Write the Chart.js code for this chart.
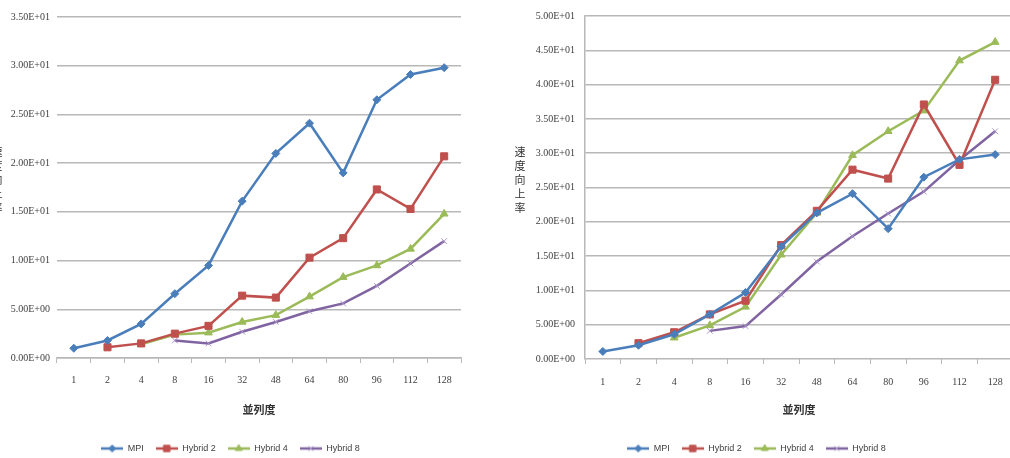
<!DOCTYPE html>
<html>
<head>
<meta charset="utf-8">
<script src="https://cdn.jsdelivr.net/npm/chart.js@4.4.1/dist/chart.umd.min.js"></script>
<style>
body { margin: 0; width: 1010px; height: 458px; overflow: hidden; background: #fff; position: relative; }
.box { position: absolute; top: 0; height: 463px; }
#leftBox { left: 0; width: 500px; }
#rightBox { left: 500px; width: 520px; }
.ytitle { position: absolute; writing-mode: vertical-rl; text-orientation: upright; font-family: 'Noto Sans CJK JP'; font-size: 11px; letter-spacing: 3px; color: #333; }
</style>
</head>
<body>
<div class="box" id="leftBox"><canvas id="leftChart"></canvas></div>
<div class="box" id="rightBox"><canvas id="rightChart"></canvas></div>
<div class="ytitle" style="left:-11px; top:146px;">速度向上率</div>
<div class="ytitle" style="left:512px; top:146px;">速度向上率</div>
<script>
const categories = ['1', '2', '4', '8', '16', '32', '48', '64', '80', '96', '112', '128'];
const seriesNames = ['MPI', 'Hybrid 2', 'Hybrid 4', 'Hybrid 8'];
const xTitle = '並列度';

// left chart
const leftMpi = [1.0, 1.8, 3.5, 6.6, 9.5, 16.1, 21.0, 24.1, 19.0, 26.5, 29.1, 29.8];
const leftHybrid2 = [null, 1.1, 1.5, 2.5, 3.3, 6.4, 6.2, 10.3, 12.3, 17.3, 15.3, 20.7];
const leftHybrid4 = [null, null, 1.4, 2.4, 2.6, 3.7, 4.4, 6.3, 8.3, 9.5, 11.2, 14.8];
const leftHybrid8 = [null, null, null, 1.8, 1.5, 2.7, 3.7, 4.8, 5.6, 7.4, 9.7, 12.0];
const leftYMax = 35;

// right chart
const rightMpi = [1.1, 2.0, 3.6, 6.5, 9.7, 16.4, 21.3, 24.1, 19.0, 26.5, 29.1, 29.8];
const rightHybrid2 = [null, 2.3, 3.9, 6.5, 8.5, 16.6, 21.6, 27.6, 26.3, 37.1, 28.3, 40.7];
const rightHybrid4 = [null, null, 3.1, 4.9, 7.6, 15.2, 21.3, 29.7, 33.2, 36.2, 43.5, 46.2];
const rightHybrid8 = [null, null, null, 4.1, 4.8, 9.4, 14.2, 17.9, 21.2, 24.4, 29.0, 33.2];
const rightYMax = 50;

const colors = ['#4a7ebb', '#c0504d', '#9bbb59', '#8064a2'];
const markerColors = ['#4a7ebb', '#c0504d', '#9bbb59', '#a895c8'];
const markers = ['rectRot', 'rect', 'triangle', 'crossRot'];
const markerSizes = [4, 5, 4.5, 4];

function sci(v) {
    const parts = Number(v).toExponential(2).toUpperCase().split('E');
    const exp = parseInt(parts[1]);
    return parts[0] + 'E' + (exp < 0 ? '-' : '+') + String(Math.abs(exp)).padStart(2, '0');
}

function legendIcon(i) {
    const c = document.createElement('canvas');
    c.width = 22;
    c.height = 10;
    const ctx = c.getContext('2d');
    ctx.strokeStyle = colors[i];
    ctx.lineWidth = 2.5;
    ctx.beginPath();
    ctx.moveTo(0, 5);
    ctx.lineTo(22, 5);
    ctx.stroke();
    ctx.fillStyle = markerColors[i];
    ctx.strokeStyle = markerColors[i];
    ctx.lineWidth = 1;
    Chart.helpers.drawPoint(ctx, { pointStyle: markers[i], radius: markerSizes[i] - 0.5, borderWidth: 1 }, 11, 5);
    return c;
}

function buildChart(id, series, yMax, box) {
    const datasets = series.map((values, i) => ({
        label: seriesNames[i],
        data: values,
        borderColor: colors[i],
        backgroundColor: colors[i],
        borderWidth: 2.5,
        pointStyle: markers[i],
        pointRadius: markerSizes[i],
        pointBackgroundColor: markerColors[i],
        pointBorderColor: markerColors[i],
        pointBorderWidth: 1,
        tension: 0
    }));
    const icons = series.map((v, i) => legendIcon(i));
    const gridColor = '#b8b8b8';

    return new Chart(document.getElementById(id), {
        type: 'line',
        data: { labels: categories, datasets: datasets },
        options: {
            responsive: true,
            maintainAspectRatio: false,
            animation: false,
            layout: { padding: { left: 0, right: box.right, top: box.top, bottom: 0 } },
            scales: {
                x: {
                    offset: true,
                    grid: { offset: true, drawOnChartArea: false, drawTicks: true, tickLength: 5, color: gridColor },
                    border: { display: box.xBorder, color: gridColor, width: 1.5 },
                    ticks: { padding: box.tickPad, color: '#404040', font: { family: 'Liberation Serif', size: 10 } },
                    title: { display: true, text: xTitle, color: '#333', padding: { top: 4, bottom: 16 }, font: { family: 'Noto Sans CJK JP', size: 11, weight: 'bold' } },
                    afterFit: scale => { scale.height = box.xHeight; }
                },
                y: {
                    min: 0,
                    max: yMax,
                    ticks: { stepSize: 5, padding: box.yPad, color: '#404040', font: { family: 'Liberation Serif', size: 10 }, callback: v => sci(v) },
                    grid: { color: gridColor, lineWidth: 1.5, drawTicks: false },
                    border: { display: box.yBorder, color: gridColor, width: 1.5 },
                    afterFit: scale => { scale.width = box.yWidth; }
                }
            },
            plugins: {
                legend: {
                    position: 'bottom',
                    labels: {
                        usePointStyle: true,
                        pointStyleWidth: 22,
                        padding: 12,
                        color: '#404040',
                        font: { family: 'Liberation Sans', size: 9 },
                        generateLabels: chart => chart.data.datasets.map((ds, i) => ({
                            text: ds.label,
                            pointStyle: icons[i],
                            fillStyle: colors[i],
                            strokeStyle: colors[i],
                            lineWidth: 0,
                            hidden: false,
                            datasetIndex: i,
                            fontColor: '#404040'
                        }))
                    }
                },
                tooltip: { enabled: false }
            }
        }
    });
}

buildChart('leftChart', [leftMpi, leftHybrid2, leftHybrid4, leftHybrid8], leftYMax,
    { right: 39, top: 17, xHeight: 74, tickPad: 11, yPad: 7, yWidth: 57, xBorder: true, yBorder: false });
buildChart('rightChart', [rightMpi, rightHybrid2, rightHybrid4, rightHybrid8], rightYMax,
    { right: 7, top: 15, xHeight: 73, tickPad: 12, yPad: 10, yWidth: 85, xBorder: false, yBorder: true });
</script>
</body>
</html>
